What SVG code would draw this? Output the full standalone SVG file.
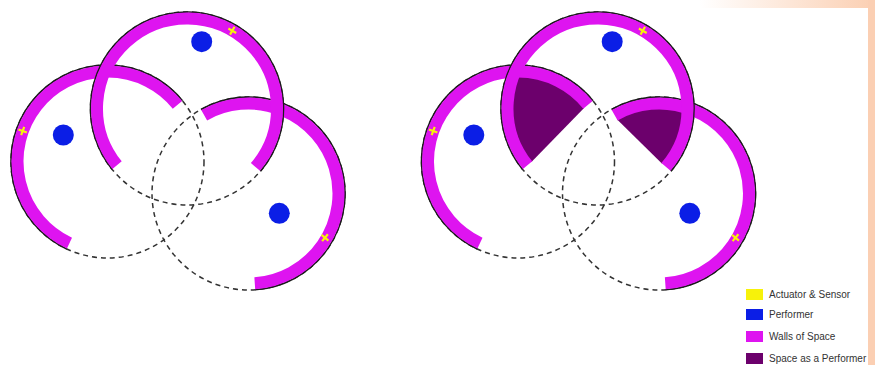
<svg xmlns="http://www.w3.org/2000/svg" width="875" height="365" viewBox="0 0 875 365">
  <defs>
    <linearGradient id="topfade" x1="0" y1="0" x2="1" y2="0">
      <stop offset="0" stop-color="#ffffff"/>
      <stop offset="1" stop-color="#fbcfb2"/>
    </linearGradient>
    <style>
      .dash { fill: none; stroke: #333; stroke-width: 1.5; stroke-dasharray: 5 4; }
      .edge { fill: none; stroke: #1a1a1a; stroke-width: 1.6; }
      .wall { fill: none; stroke: #de14f0; stroke-width: 12; }
      .perf { fill: #0b1ee6; }
      .sens { fill: none; stroke: #f7f20a; stroke-width: 2.2; }
      .sap { fill: #6c006c; }
      .lbl { font-family: "Liberation Sans", Arial, sans-serif; font-size: 10px; fill: #333; }
    </style>
    <path id="cross" d="M-4.5 0 H4.5 M0 -4.5 V4.5"/>
  </defs>

  <rect x="0" y="0" width="875" height="365" fill="#ffffff"/>
  <rect x="700" y="0" width="175" height="8" fill="url(#topfade)"/>
  <rect x="868" y="0" width="7" height="365" fill="#fbcfb3"/>

  <!-- Left diagram -->
  <g id="diagram-left">
    <g id="connectors-left">
      <circle class="dash" cx="107.5" cy="161.5" r="96.5"/>
      <circle class="dash" cx="248.5" cy="193.5" r="96.5"/>
      <circle class="dash" cx="187" cy="108.5" r="96.5"/>
    </g>
    <g id="left-space-west">
      <path class="edge" d="M66.72 248.96 A96.5 96.5 0 1 1 182.49 100.77"/>
      <path class="wall" d="M69.47 243.07 A90 90 0 1 1 177.44 104.86"/>
      <circle class="perf" cx="63.3" cy="135" r="10.5"/>
      <use href="#cross" class="sens" transform="translate(22.7 131) rotate(20)"/>
    </g>
    <g id="left-space-east">
      <path class="edge" d="M200.98 109.51 A96.5 96.5 0 1 1 255.23 289.77"/>
      <path class="wall" d="M204.18 115.16 A90 90 0 1 1 254.78 283.28"/>
      <circle class="perf" cx="279.3" cy="213.3" r="10.5"/>
      <use href="#cross" class="sens" transform="translate(325 237.7) rotate(40)"/>
    </g>
    <g id="left-space-north">
      <path class="edge" d="M112.01 169.23 A96.5 96.5 0 1 1 260.38 171.17"/>
      <path class="wall" d="M117.06 165.14 A90 90 0 1 1 255.44 166.95"/>
      <circle class="perf" cx="201.7" cy="41.7" r="10.5"/>
      <use href="#cross" class="sens" transform="translate(232.3 30.7) rotate(30)"/>
    </g>
  </g>

  <!-- Right diagram -->
  <g id="diagram-right" transform="translate(410.5 0)">
    <g id="connectors-right">
      <circle class="dash" cx="107.5" cy="161.5" r="96.5"/>
      <circle class="dash" cx="248.5" cy="193.5" r="96.5"/>
      <circle class="dash" cx="187" cy="108.5" r="96.5"/>
    </g>
    <g id="space-performer-west">
      <path class="sap" d="M173.56 108.01 A85 85 0 0 0 108.25 76.5 A85 85 0 0 0 120.95 161.99 Z"/>
    </g>
    <g id="space-performer-east">
      <path class="sap" d="M206.65 119.52 A85 85 0 0 1 271.94 111.79 A85 85 0 0 1 251.63 163.7 Z"/>
    </g>
    <g id="right-space-west">
      <path class="edge" d="M66.72 248.96 A96.5 96.5 0 1 1 182.49 100.77"/>
      <path class="wall" d="M69.47 243.07 A90 90 0 1 1 177.44 104.86"/>
      <circle class="perf" cx="63.3" cy="135" r="10.5"/>
      <use href="#cross" class="sens" transform="translate(22.7 131) rotate(20)"/>
    </g>
    <g id="right-space-east">
      <path class="edge" d="M200.98 109.51 A96.5 96.5 0 1 1 255.23 289.77"/>
      <path class="wall" d="M204.18 115.16 A90 90 0 1 1 254.78 283.28"/>
      <circle class="perf" cx="279.3" cy="213.3" r="10.5"/>
      <use href="#cross" class="sens" transform="translate(325 237.7) rotate(40)"/>
    </g>
    <g id="right-space-north">
      <path class="edge" d="M112.01 169.23 A96.5 96.5 0 1 1 260.38 171.17"/>
      <path class="wall" d="M117.06 165.14 A90 90 0 1 1 255.44 166.95"/>
      <circle class="perf" cx="201.7" cy="41.7" r="10.5"/>
      <use href="#cross" class="sens" transform="translate(232.3 30.7) rotate(30)"/>
    </g>
  </g>

  <!-- Legend -->
  <g id="legend">
    <rect x="746" y="289" width="17" height="11" fill="#f7f20a"/>
    <text class="lbl" x="769" y="298">Actuator &amp; Sensor</text>
    <rect x="746" y="309" width="17" height="11" fill="#0b1ee6"/>
    <text class="lbl" x="769" y="318">Performer</text>
    <rect x="746" y="331" width="17" height="11" fill="#de14f0"/>
    <text class="lbl" x="769" y="339.5">Walls of Space</text>
    <rect x="746" y="353" width="17" height="11" fill="#6c006c"/>
    <text class="lbl" x="769" y="361.5">Space as a Performer</text>
  </g>
</svg>
